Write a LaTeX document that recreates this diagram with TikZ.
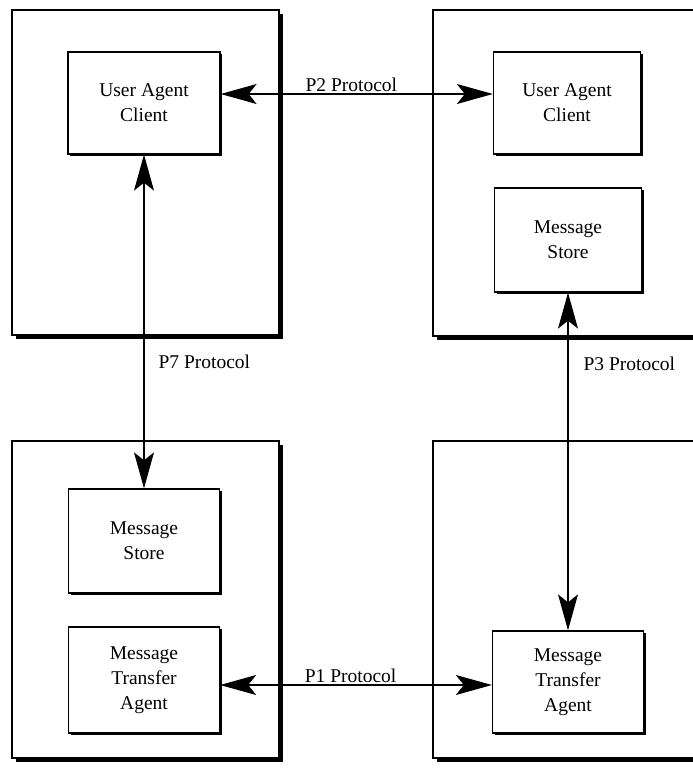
\documentclass[tikz,border=0pt]{standalone}
\usepackage{fontspec}
\setmainfont{Liberation Serif}
\usetikzlibrary{shadows,arrows.meta}
\begin{document}
\begin{tikzpicture}[x=1pt,y=-1pt,
  font=\fontsize{19.5}{25}\selectfont,
  outerbox/.style={draw=black, line width=1.3pt, fill=white, inner sep=0pt,
    drop shadow={shadow xshift=3.5pt, shadow yshift=-3.5pt, fill=black, opacity=1}},
  innerbox/.style={draw=black, line width=1.3pt, fill=white, align=center, inner sep=0pt,
    drop shadow={shadow xshift=2pt, shadow yshift=-2pt, fill=black, opacity=1}},
  conn/.style={line width=1.1pt, {Stealth[length=36pt,width=20pt,inset=8pt]}-{Stealth[length=36pt,width=20pt,inset=8pt]}},
  lbl/.style={inner sep=2pt}
]
\clip (0,0) rectangle (693,769);
% outer containers
\node[outerbox, minimum width=267pt, minimum height=325pt] (otl) at (145.5,172.5) {};
\node[outerbox, minimum width=290pt, minimum height=326pt] (otr) at (578,173) {};
\node[outerbox, minimum width=267pt, minimum height=317pt] (obl) at (145.5,599.5) {};
\node[outerbox, minimum width=290pt, minimum height=317pt] (obr) at (578,599.5) {};
% inner boxes
\node[innerbox, minimum width=152pt, minimum height=102pt] (uac1) at (144,103) {User Agent\\Client};
\node[innerbox, minimum width=147pt, minimum height=102pt] (uac2) at (567,103) {User Agent\\Client};
\node[innerbox, minimum width=147pt, minimum height=104pt] (ms2) at (568,240) {Message\\Store};
\node[innerbox, minimum width=151pt, minimum height=104pt] (ms1) at (144,541) {Message\\Store};
\node[innerbox, minimum width=151pt, minimum height=106pt] (mta1) at (144,680) {Message\\Transfer\\Agent};
\node[innerbox, minimum width=151pt, minimum height=102pt] (mta2) at (568,682) {Message\\Transfer\\Agent};
% connectors
\draw[conn] ([yshift=9pt]uac1.east) -- node[lbl, above, pos=0.48] {P2 Protocol} ([yshift=9pt]uac2.west);
\draw[conn] (uac1.south) -- node[lbl, right, pos=0.62, xshift=12pt] {P7 Protocol} (ms1.north);
\draw[conn] (ms2.south) -- node[lbl, right, pos=0.21, xshift=13pt] {P3 Protocol} (mta2.north);
\draw[conn] ([yshift=-5pt]mta1.east) -- node[lbl, above, pos=0.48] {P1 Protocol} ([yshift=-3pt]mta2.west);
\end{tikzpicture}
\end{document}
